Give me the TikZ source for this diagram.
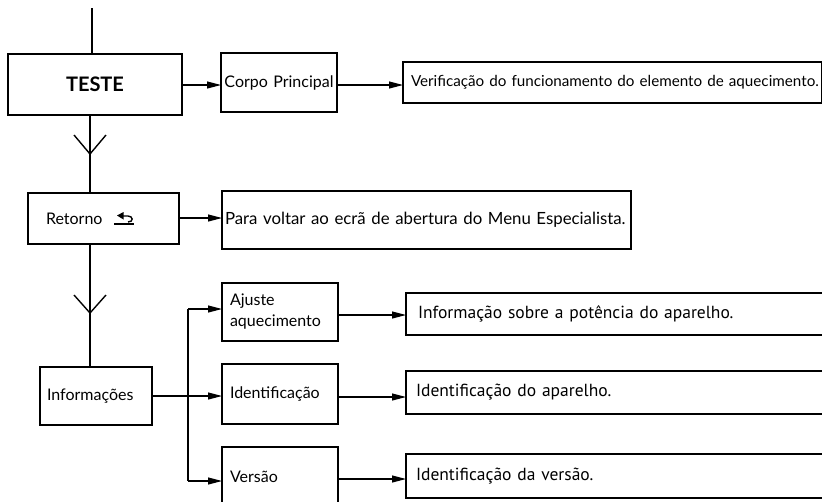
\documentclass[tikz,border=0pt]{standalone}
\usepackage{fontspec}
\setmainfont{Lato}
\newfontfamily\myr{PT Sans}
\usetikzlibrary{arrows.meta,calc}
\begin{document}
\begin{tikzpicture}[x=1pt,y=-1pt,
  box/.style={draw, line width=1.1pt, anchor=north west, inner ysep=0pt, outer sep=0pt,
    align=left, font=\fontsize{16}{20}\selectfont},
  rbox/.style={box, font=\myr\fontsize{17.5}{21}\selectfont},
  arr/.style={line width=1.1pt, -{Triangle[length=14pt,width=7pt]}},
  ln/.style={line width=1.1pt}]
\clip (0,0) rectangle (822,501);
% left column
\node[box, align=center, minimum width=174pt, minimum height=61pt, text width=160pt, inner xsep=7pt,
  font=\bfseries\fontsize{20}{24}\selectfont] (teste) at (8,54) {TESTE};
\node[box, align=center, minimum width=116pt, minimum height=59pt, text width=114pt, inner xsep=1pt] (corpo) at (221,53) {Corpo Principal};
\node[box, minimum width=500pt, minimum height=41pt, text width=484pt, inner xsep=8pt,
  font=\fontsize{15.2}{19}\selectfont] (verif) at (403,62) {Verificação do funcionamento do elemento de aquecimento.};
\draw[line width=1.1pt] (822,62) -- (822,103);
\node[box, minimum width=133pt, minimum height=51pt, text width=115pt, inner xsep=18pt] (retorno) at (28,193) {Retorno};
\node[box, minimum width=409pt, minimum height=58pt, text width=403pt, inner xsep=3pt,
  font=\fontsize{16.8}{20}\selectfont] (para) at (222,191) {Para voltar ao ecrã de abertura do Menu Especialista.};
\node[box, minimum width=112pt, minimum height=58pt, text width=98pt, inner xsep=7pt] (info) at (40,367) {Informações};
\node[box, minimum width=116pt, minimum height=58pt, text width=100pt, inner xsep=8pt, font=\fontsize{16}{21}\selectfont] (ajuste) at (222,283) {Ajuste\\aquecimento};
\node[box, minimum width=116pt, minimum height=60pt, text width=100pt, inner xsep=8pt] (ident) at (222,364) {Identificação};
\node[box, minimum width=116pt, minimum height=60pt, text width=100pt, inner xsep=8pt] (versao) at (222,447) {Versão};
\node[rbox, minimum width=430pt, minimum height=42pt, text width=406pt, inner xsep=12pt] (pot) at (406,293) {Informação sobre a potência do aparelho.};
\node[rbox, minimum width=430pt, minimum height=43pt, text width=410pt, inner xsep=10pt] (apar) at (406,371) {Identificação do aparelho.};
\node[rbox, minimum width=430pt, minimum height=44pt, text width=410pt, inner xsep=10pt] (vers) at (406,454) {Identificação da versão.};
% return symbol
\draw[line width=1.4pt] (114,224) -- (134,224);
\draw[line width=1.4pt] (122,216) -- (128,216) .. controls (133,216) and (134,222) .. (128,222);
\fill (117,215.5) -- (123.5,212) -- (123.5,219.5) -- cycle;
% spine
\coordinate (top) at (92,8);
\coordinate (sp) at (90,0);
\draw[ln] (top) -- (top |- teste.north);
\draw[ln] (sp |- teste.south) -- (sp |- retorno.north);
\draw[ln] (sp |- retorno.south) -- (sp |- info.north);
\coordinate (c1) at (90,154);
\coordinate (c2) at (90,313);
\draw[ln, line width=1.4pt] ($(c1)+(-16,-19)$) -- (c1) -- ($(c1)+(16,-19)$);
\draw[ln, line width=1.4pt] ($(c2)+(-16,-18)$) -- (c2) -- ($(c2)+(16,-18)$);
% arrows
\draw[arr] (teste.east |- 0,85) -- (corpo.west |- 0,85);
\draw[arr] (corpo.east |- 0,85) -- (verif.west |- 0,85);
\draw[arr] (retorno.east |- 0,218) -- (para.west |- 0,218);
\coordinate (br) at (188,396);
\draw[arr] (info.east |- br) -- (ident.west |- br);
\draw[ln] (br |- 0,309) -- (br |- 0,481);
\draw[arr] (br |- 0,309) -- (ajuste.west |- 0,309);
\draw[arr] (br |- 0,481) -- (versao.west |- 0,481);
\draw[arr] (ajuste.east |- 0,315) -- (pot.west |- 0,315);
\draw[arr] (ident.east |- 0,397) -- (apar.west |- 0,397);
\draw[arr] (versao.east |- 0,479) -- (vers.west |- 0,479);
\end{tikzpicture}
\end{document}
